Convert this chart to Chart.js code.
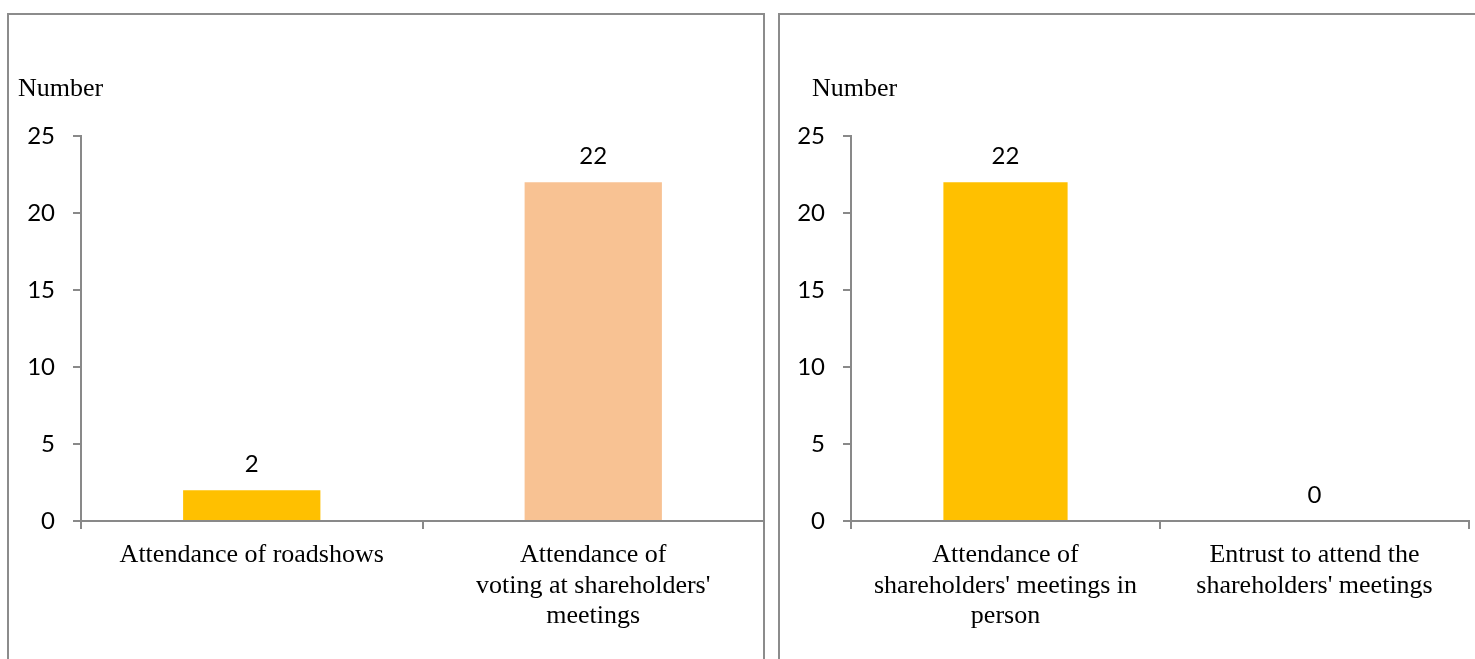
<!DOCTYPE html>
<html>
<head>
<meta charset="utf-8">
<title>Shareholder meeting attendance</title>
<script src="https://cdn.jsdelivr.net/npm/chart.js@4/dist/chart.umd.min.js"></script>
<style>
  html, body { margin: 0; padding: 0; background: #ffffff; }
  body { width: 1475px; height: 659px; position: relative; overflow: hidden; }
  .panel { position: absolute; top: 13px; height: 700px; border: 2px solid #8c8c8c; box-sizing: border-box; }
  #panelA { left: 7px; width: 758px; }
  #panelB { left: 778px; width: 720px; }
  .chartbox { position: absolute; top: 0; height: 659px; }
  #boxA { left: 0; width: 770px; }
  #boxB { left: 770px; width: 705px; }
</style>
</head>
<body>
<div class="panel" id="panelA"></div>
<div class="panel" id="panelB"></div>
<div class="chartbox" id="boxA"><canvas id="chartA" width="770" height="659"></canvas></div>
<div class="chartbox" id="boxB"><canvas id="chartB" width="705" height="659"></canvas></div>
<script>
// Left chart: roadshows vs. voting
const attendanceCategories = [
  'Attendance of roadshows',
  ['Attendance of', "voting at shareholders'", 'meetings']
];
const attendanceValues = [2, 22];
const attendanceColors = ['#FFC000', '#F8C293'];

// Right chart: in person vs. entrusted
const meetingCategories = [
  ['Attendance of', "shareholders' meetings in", 'person'],
  ['Entrust to attend the', "shareholders' meetings"]
];
const meetingValues = [22, 0];
const meetingColors = ['#FFC000', '#F8C293'];

const yTickValues = [0, 5, 10, 15, 20, 25];
const axisTitle = 'Number';

const AXIS_GREY = '#898989';
const SERIF = "'Liberation Serif', 'Times New Roman', serif";
const SANS = "Lato, 'Open Sans', sans-serif";

// Prints each bar's value just above it
const valueLabels = {
  id: 'valueLabels',
  afterDatasetsDraw(chart) {
    const ctx = chart.ctx;
    ctx.save();
    ctx.font = '24px ' + SANS;
    ctx.fillStyle = '#000000';
    ctx.textAlign = 'center';
    ctx.textBaseline = 'middle';
    chart.data.datasets.forEach((ds, di) => {
      chart.getDatasetMeta(di).data.forEach((bar, i) => {
        ctx.fillText(String(ds.data[i]), bar.x, bar.y - 26);
      });
    });
    ctx.restore();
  }
};

// Unit caption written above the value axis
const unitCaption = {
  id: 'unitCaption',
  afterDraw(chart, args, opts) {
    const ctx = chart.ctx;
    ctx.save();
    ctx.font = '26px ' + SERIF;
    ctx.fillStyle = '#000000';
    ctx.textAlign = 'left';
    ctx.textBaseline = 'middle';
    ctx.fillText(opts.text, opts.x, opts.y);
    ctx.restore();
  }
};

function makeChart(canvasId, labels, values, colors, captionX, yWidth) {
  return new Chart(document.getElementById(canvasId), {
    type: 'bar',
    data: {
      labels: labels,
      datasets: [{
        data: values,
        backgroundColor: colors,
        borderWidth: 0,
        categoryPercentage: 1,
        barPercentage: 0.402
      }]
    },
    options: {
      responsive: false,
      animation: false,
      layout: { padding: { left: 10, right: 6, top: 136, bottom: 28 } },
      plugins: {
        legend: { display: false },
        tooltip: { enabled: false },
        title: { display: false },
        unitCaption: { text: axisTitle, x: captionX, y: 89 }
      },
      scales: {
        x: {
          grid: { display: true, drawOnChartArea: false, drawTicks: true, tickLength: 8, color: AXIS_GREY, lineWidth: 2, offset: true },
          border: { display: true, color: AXIS_GREY, width: 2 },
          ticks: {
            color: '#000000',
            font: { family: SERIF, size: 26, lineHeight: 1.173 },
            padding: 11,
            maxRotation: 0,
            minRotation: 0,
            autoSkip: false
          },
          afterFit(scale) { scale.height = 110; }
        },
        y: {
          min: 0,
          max: 25,
          grid: { display: true, drawOnChartArea: false, drawTicks: true, tickLength: 8, color: AXIS_GREY, lineWidth: 2 },
          border: { display: true, color: AXIS_GREY, width: 2 },
          afterBuildTicks(scale) { scale.ticks = yTickValues.map(v => ({ value: v })); },
          ticks: {
            color: '#000000',
            font: { family: SANS, size: 24 },
            padding: 18
          },
          afterFit(scale) { scale.width = yWidth; }
        }
      }
    },
    plugins: [valueLabels, unitCaption]
  });
}

makeChart('chartA', attendanceCategories, attendanceValues, attendanceColors, 18, 71);
makeChart('chartB', meetingCategories, meetingValues, meetingColors, 42, 71);
</script>
</body>
</html>
